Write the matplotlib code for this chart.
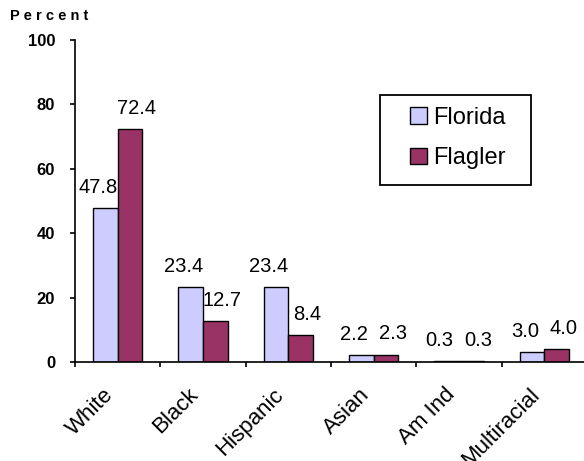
import matplotlib.pyplot as plt
import matplotlib.transforms as mtransforms
from matplotlib.patches import Rectangle
import numpy as np

plt.rcParams['font.family'] = ['Liberation Sans', 'DejaVu Sans']

# dados
categories = ["White", "Black", "Hispanic", "Asian", "Am Ind", "Multiracial"]
florida = [47.8, 23.4, 23.4, 2.2, 0.3, 3.0]
flagler = [72.4, 12.7, 8.4, 2.3, 0.3, 4.0]
yticks = [0, 20, 40, 60, 80, 100]

fig = plt.figure(figsize=(5.84, 4.61), dpi=100)
ax = fig.add_axes([75/584, 99/461, 512/584, 322/461])

x = np.arange(len(categories))
w = 0.29
ax.bar(x - w/2, florida, w, color="#CCCCFF", edgecolor="black", linewidth=1, label="Florida")
ax.bar(x + w/2, flagler, w, color="#993366", edgecolor="black", linewidth=1, label="Flagler")

# etiquetas dos valores
for i in range(len(categories)):
    ax.annotate(f"{florida[i]:.1f}", (x[i] - w/2, florida[i]), xytext=(-5, 8),
                textcoords="offset points", ha="center", va="bottom", fontsize=14.5)
    ax.annotate(f"{flagler[i]:.1f}", (x[i] + w/2, flagler[i]), xytext=(5, 8),
                textcoords="offset points", ha="center", va="bottom", fontsize=14.5)

ax.set_xlim(-0.5, 5.5)
ax.set_ylim(0, 100)
ax.set_yticks(yticks)
ax.set_yticklabels([str(t) for t in yticks], fontsize=12, fontweight="bold")
ax.tick_params(axis="y", direction="out", length=3.6, width=1.2, pad=10.8)

ax.set_xticks(x)
ax.set_xticklabels(categories, rotation=45, ha="right", rotation_mode="anchor", fontsize=16)
ax.tick_params(axis="x", which="major", length=0, pad=16)
ax.set_xticks(np.arange(-0.5, 6.0, 1.0), minor=True)
ax.tick_params(axis="x", which="minor", direction="out", length=3.6, width=1.2)

shift = mtransforms.ScaledTranslation(-15/100, 0, fig.dpi_scale_trans)
for lbl in ax.get_xticklabels():
    lbl.set_transform(lbl.get_transform() + shift)

for s in ["top", "right"]:
    ax.spines[s].set_visible(False)
ax.spines["left"].set_linewidth(1.2)
ax.spines["bottom"].set_linewidth(1.2)

fig.text(10/584, 1 - 16/461, "P e r c e n t", fontsize=10.5, fontweight="bold", va="center")

# legenda
box = Rectangle((305/512, 177/322), 151/512, 90/322, transform=ax.transAxes,
                facecolor="white", edgecolor="black", linewidth=1.3, zorder=4)
ax.add_patch(box)
leg = ax.legend(loc="center left", bbox_to_anchor=(335/512, 224/322), fontsize=17,
                frameon=False, handlelength=0.72, handleheight=0.68,
                handletextpad=0.28, labelspacing=0.78, borderpad=0, borderaxespad=0)
leg.set_zorder(5)

plt.savefig("out.png", dpi=100)
